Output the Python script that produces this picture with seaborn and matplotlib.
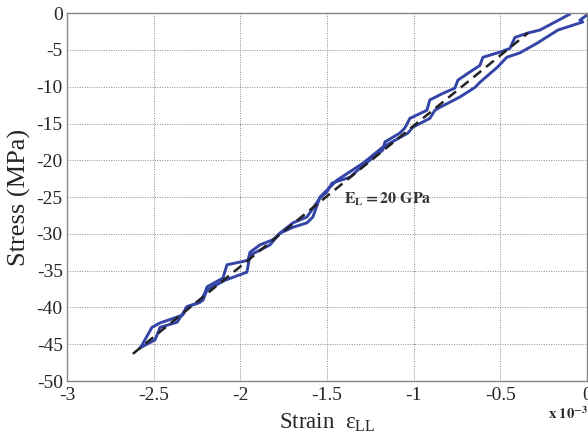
import numpy as np
import pandas as pd
import seaborn as sns
import matplotlib.pyplot as plt

# strain values are in units of 1e-3, stress in MPa
loop1_strain = [-2.579, -2.567, -2.510, -2.463, -2.365, -2.331, -2.308, -2.233, -2.204, -2.192,
                -2.100, -2.077, -1.956, -1.944, -1.887, -1.812, -1.771, -1.696, -1.615, -1.540,
                -1.500, -1.471, -1.367, -1.292, -1.177, -1.165, -1.079, -1.050, -1.021, -0.923,
                -0.906, -0.831, -0.762, -0.744, -0.675, -0.617, -0.600, -0.502, -0.444, -0.415,
                -0.340, -0.271, -0.098]
loop1_stress = [-45.5, -45.1, -42.7, -42.1, -41.3, -41.0, -39.9, -39.3, -38.0, -37.2,
                -36.0, -34.2, -33.6, -32.5, -31.5, -30.8, -29.9, -28.5, -27.7, -25.1,
                -24.3, -23.1, -22.3, -20.7, -18.6, -17.5, -16.3, -15.6, -14.3, -13.2,
                -11.8, -10.9, -10.2, -9.1, -8.0, -7.1, -6.0, -5.3, -4.8, -3.3,
                -2.7, -2.3, -0.14]

loop2_strain = [-2.579, -2.492, -2.463, -2.365, -2.331, -2.308, -2.244, -2.215, -2.192, -2.088,
                -1.962, -1.944, -1.829, -1.771, -1.696, -1.615, -1.581, -1.540, -1.442, -1.292,
                -1.177, -1.033, -1.004, -0.906, -0.877, -0.848, -0.733, -0.646, -0.617, -0.514,
                -0.462, -0.387, -0.288, -0.167, -0.023, -0.040, 0.0]
loop2_stress = [-45.5, -44.4, -42.7, -42.0, -40.8, -39.9, -39.4, -39.0, -37.6, -36.3,
                -35.2, -32.9, -31.5, -29.9, -29.1, -28.5, -27.7, -25.0, -22.7, -20.4,
                -18.2, -16.3, -15.5, -14.3, -13.2, -12.8, -11.4, -10.1, -9.4, -7.3,
                -6.0, -5.4, -4.1, -2.3, -1.2, -0.95, -0.27]

fit_strain = [-2.62, -0.34]
fit_stress = [-46.3, -2.7]

x_ticks = [-3, -2.5, -2, -1.5, -1, -0.5, 0]
y_ticks = [-50, -45, -40, -35, -30, -25, -20, -15, -10, -5, 0]

sns.set_style("white")
plt.rcParams['font.family'] = ['Liberation Serif', 'DejaVu Serif']
plt.rcParams['mathtext.fontset'] = 'stix'

df1 = pd.DataFrame({'strain': loop1_strain, 'stress': loop1_stress})
df2 = pd.DataFrame({'strain': loop2_strain, 'stress': loop2_stress})
dfit = pd.DataFrame({'strain': fit_strain, 'stress': fit_stress})

fig = plt.figure(figsize=(5.88, 4.38), dpi=100)
ax = fig.add_axes([0.114, 0.130, 0.884, 0.840])

blue = '#3444a6'
sns.lineplot(data=df1, x='strain', y='stress', sort=False, color=blue, lw=2.1, ax=ax)
sns.lineplot(data=df2, x='strain', y='stress', sort=False, color=blue, lw=2.1, ax=ax)
sns.lineplot(data=dfit, x='strain', y='stress', sort=False, color='#222222', lw=1.8,
             ax=ax, linestyle=(0, (4, 2.5)))

ax.set_xlim(-3, 0)
ax.set_ylim(-50, 0)
ax.set_xticks(x_ticks)
ax.set_xticklabels([f'{t:g}' for t in x_ticks])
ax.set_yticks(y_ticks)
ax.set_yticklabels([f'{t:g}' for t in y_ticks])
ax.tick_params(direction='in', labelsize=14, length=4, color='#555555', pad=3)
ax.tick_params(axis='x', pad=4)
ax.grid(True, linestyle=(0, (1, 1.5)), color='#888888', lw=0.7)
for s in ax.spines.values():
    s.set_color('#888888')
    s.set_linewidth(1.0)

ax.set_xlabel(r'Strain  $\mathregular{\varepsilon_{LL}}$', fontsize=16.5, labelpad=6)
ax.set_ylabel('Stress (MPa)', fontsize=19, labelpad=4)

ax.text(-1.40, -25.3, r'$\mathbf{E_L = 20\ GPa}$', fontsize=11.5, color='#333333',
        ha='left', va='center')
fig.text(0.932, 0.055, r'$\mathbf{x\ 10^{-3}}$', fontsize=10.5, ha='left', va='center')

fig.savefig('out.png', dpi=100)
